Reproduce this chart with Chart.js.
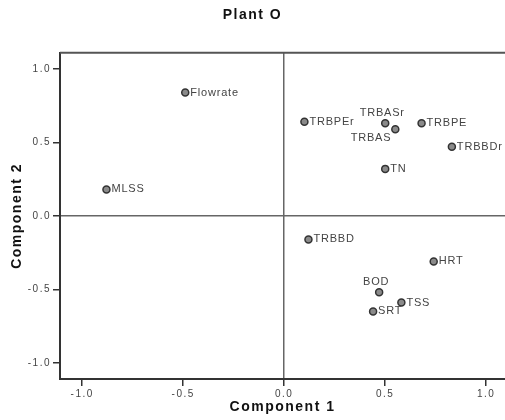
<!DOCTYPE html>
<html>
<head>
<meta charset="utf-8">
<title>Plant O</title>
<script src="https://cdn.jsdelivr.net/npm/chart.js@4.4.1/dist/chart.umd.min.js"></script>
<style>
  html, body { margin: 0; padding: 0; background: #fff; overflow: hidden; }
  canvas { display: block; }
</style>
</head>
<body>
<canvas id="plot" width="505" height="420"></canvas>
<script>
// Component loadings
const variables = ['Flowrate', 'MLSS', 'TRBPEr', 'TRBASr', 'TRBAS', 'TRBPE', 'TRBBDr', 'TN', 'TRBBD', 'HRT', 'BOD', 'TSS', 'SRT'];
const component1 = [-0.49, -0.88, 0.10, 0.50, 0.55, 0.68, 0.83, 0.50, 0.12, 0.74, 0.47, 0.58, 0.44];
const component2 = [0.84, 0.18, 0.64, 0.63, 0.59, 0.63, 0.47, 0.32, -0.16, -0.31, -0.52, -0.59, -0.65];
const tickValues = [-1.0, -0.5, 0.0, 0.5, 1.0];

// labels that don't sit to the right of their point
const labelSpots = { TRBASr: 'above', TRBAS: 'belowLeft', BOD: 'above' };

const family = '"Liberation Sans", Arial, sans-serif';

// Draw the variable name next to each point
const pointLabels = {
    id: 'pointLabels',
    afterDatasetsDraw(chart) {
        const ctx = chart.ctx;
        const meta = chart.getDatasetMeta(0);
        ctx.save();
        ctx.font = '11px ' + family;
        ctx.fillStyle = '#444';
        ctx.letterSpacing = '0.8px';
        ctx.textBaseline = 'middle';
        meta.data.forEach((pt, i) => {
            const name = variables[i];
            const spot = labelSpots[name] || 'right';
            if (spot === 'above') {
                ctx.textAlign = 'center';
                ctx.fillText(name, pt.x - 3, pt.y - 10);
            } else if (spot === 'belowLeft') {
                ctx.textAlign = 'right';
                ctx.fillText(name, pt.x - 4, pt.y + 9);
            } else {
                ctx.textAlign = 'left';
                ctx.fillText(name, pt.x + 5, pt.y);
            }
        });
        ctx.restore();
    }
};

// Spaced-out text like the original, plus the top edge of the frame
const frame = {
    id: 'frame',
    beforeDraw(chart) {
        chart.ctx.letterSpacing = '1.5px';
    },
    afterDraw(chart) {
        const { ctx, chartArea } = chart;
        ctx.save();
        ctx.strokeStyle = '#555';
        ctx.lineWidth = 2;
        ctx.beginPath();
        ctx.moveTo(chartArea.left, chartArea.top);
        ctx.lineTo(chartArea.right, chartArea.top);
        ctx.stroke();
        ctx.restore();
    }
};

function axis(min, max, title, titlePadding, fit) {
    return {
        type: 'linear',
        min: min,
        max: max,
        afterBuildTicks: s => { s.ticks = tickValues.map(v => ({ value: v })); },
        afterFit: s => {
            fit(s);
            s.paddingLeft = 0;
            s.paddingRight = 0;
            s.paddingTop = 0;
            s.paddingBottom = 0;
        },
        grid: {
            drawOnChartArea: true,
            color: c => (c.tick && c.tick.value === 0) ? '#666' : 'rgba(0,0,0,0)',
            lineWidth: 1.5,
            tickColor: '#333',
            tickWidth: 1.5,
            tickLength: 7
        },
        border: { display: true, color: '#333', width: 2 },
        ticks: {
            color: '#444',
            padding: 2,
            autoSkip: false,
            maxRotation: 0,
            font: { family: family, size: 10 },
            callback: v => v.toFixed(1)
        },
        title: {
            display: true,
            text: title,
            color: '#111',
            font: { family: family, size: 14, weight: 'bold' },
            padding: titlePadding
        }
    };
}

const ctx = document.getElementById('plot').getContext('2d');
new Chart(ctx, {
    type: 'scatter',
    data: {
        datasets: [{
            data: component1.map((x, i) => ({ x: x, y: component2[i] })),
            pointRadius: 3.5,
            pointBackgroundColor: '#8a8a8a',
            pointBorderColor: '#333',
            pointBorderWidth: 1.5
        }]
    },
    options: {
        responsive: false,
        animation: false,
        devicePixelRatio: 1,
        // frame runs right up to the edge of the picture
        layout: { padding: 0, autoPadding: false },
        scales: {
            x: axis(-1.11, 1.093, 'Component 1', { top: 0, bottom: 4 }, s => { s.height = 41; }),
            y: axis(-1.11, 1.11, 'Component 2', { top: 9, bottom: 0 }, s => { s.width = 60; })
        },
        plugins: {
            legend: { display: false },
            tooltip: { enabled: false },
            title: {
                display: true,
                text: 'Plant O',
                color: '#111',
                font: { family: family, size: 14, weight: 'bold' },
                padding: { top: 7, bottom: 29 }
            }
        }
    },
    plugins: [pointLabels, frame]
});
</script>
</body>
</html>
